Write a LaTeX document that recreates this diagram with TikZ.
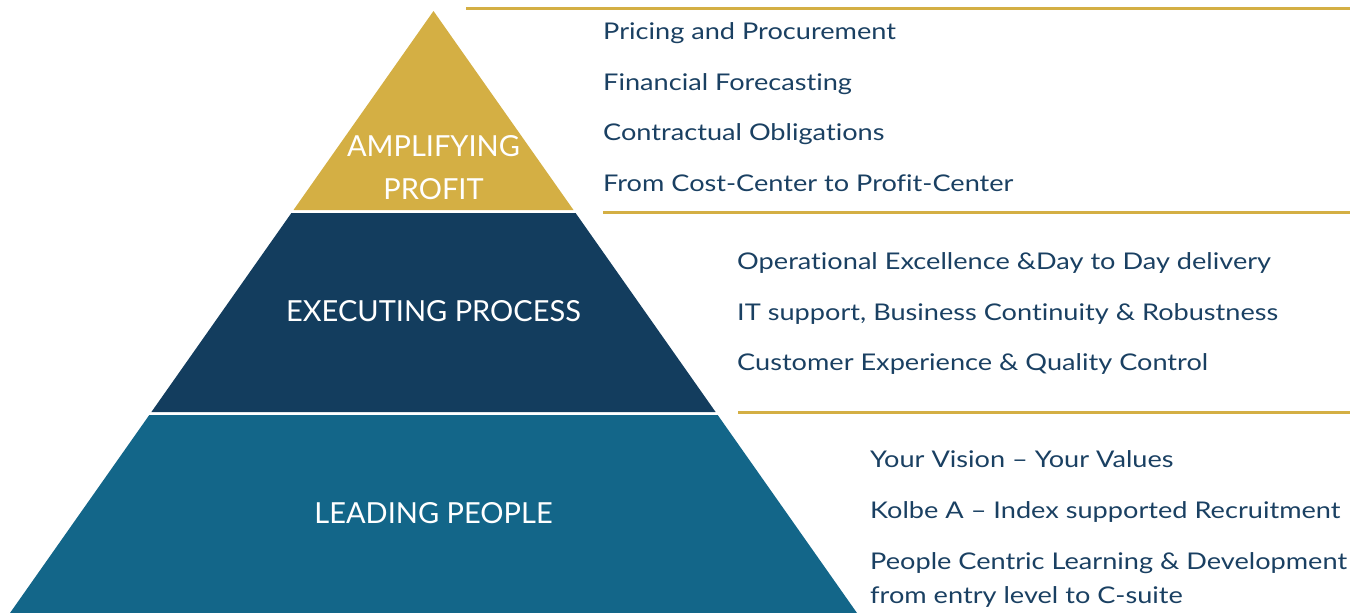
\documentclass[tikz,border=0pt]{standalone}
\usepackage{fontspec}
\setmainfont{Lato}[Ligatures=NoCommon]
\newfontfamily\itemfont{Lato}[FakeStretch=1.18,Ligatures=NoCommon]
\definecolor{gold}{HTML}{D4AF44}
\definecolor{navy}{HTML}{133D5E}
\definecolor{teal}{HTML}{136689}
\definecolor{inktext}{HTML}{1A4062}
\begin{document}
\begin{tikzpicture}[x=1pt,y=-1pt,
  tierlabel/.style={text=white,font=\fontsize{29}{43}\selectfont,align=center,inner sep=0pt},
  itemtext/.style={text=inktext,font=\itemfont\fontsize{23}{28}\selectfont,anchor=base west,inner sep=0pt},
  rule/.style={draw=gold,line width=3pt}]
\useasboundingbox (0,0) rectangle (1371,613);
% pyramid tiers
\fill[gold] (433.5,11) -- (573.5,210) -- (293.5,210) -- cycle;
\fill[navy] (291.4,213) -- (575.6,213) -- (715.6,412) -- (151.4,412) -- cycle;
\fill[teal] (149.3,415) -- (717.7,415) -- (857,613) -- (10,613) -- cycle;
% tier names
\node[tierlabel] (profit) at (433.5,167.5) {AMPLIFYING\\PROFIT};
\node[tierlabel] (process) at (433.5,311) {EXECUTING PROCESS};
\node[tierlabel] (people) at (433.5,513) {LEADING PEOPLE};
% separating rules
\coordinate (r1a) at (466,8.5);   \coordinate (r1b) at (1350,8.5);
\coordinate (r2a) at (603,212);   \coordinate (r2b) at (1350,212);
\coordinate (r3a) at (738,412.5); \coordinate (r3b) at (1350,412.5);
\draw[rule] (r1a) -- (r1b);
\draw[rule] (r2a) -- (r2b);
\draw[rule] (r3a) -- (r3b);
% items of the top tier
\node[itemtext] (p1) at (603,39.5) {Pricing and Procurement};
\node[itemtext] (p2) at (603,90) {Financial Forecasting};
\node[itemtext] (p3) at (603,140.5) {Contractual Obligations};
\node[itemtext] (p4) at (603,191) {From Cost-Center to Profit-Center};
% items of the middle tier
\node[itemtext] (e1) at (737,269) {Operational Excellence \&Day to Day delivery};
\node[itemtext] (e2) at (737,320) {IT support, Business Continuity \& Robustness};
\node[itemtext] (e3) at (737,370.5) {Customer Experience \& Quality Control};
% items of the bottom tier
\node[itemtext] (l1) at (870,467.5) {Your Vision – Your Values};
\node[itemtext] (l2) at (870,518) {Kolbe A – Index supported Recruitment};
\node[itemtext] (l3) at (870,569) {People Centric Learning \& Development};
\node[itemtext] (l4) at (870,603) {from entry level to C-suite};
\end{tikzpicture}
\end{document}
